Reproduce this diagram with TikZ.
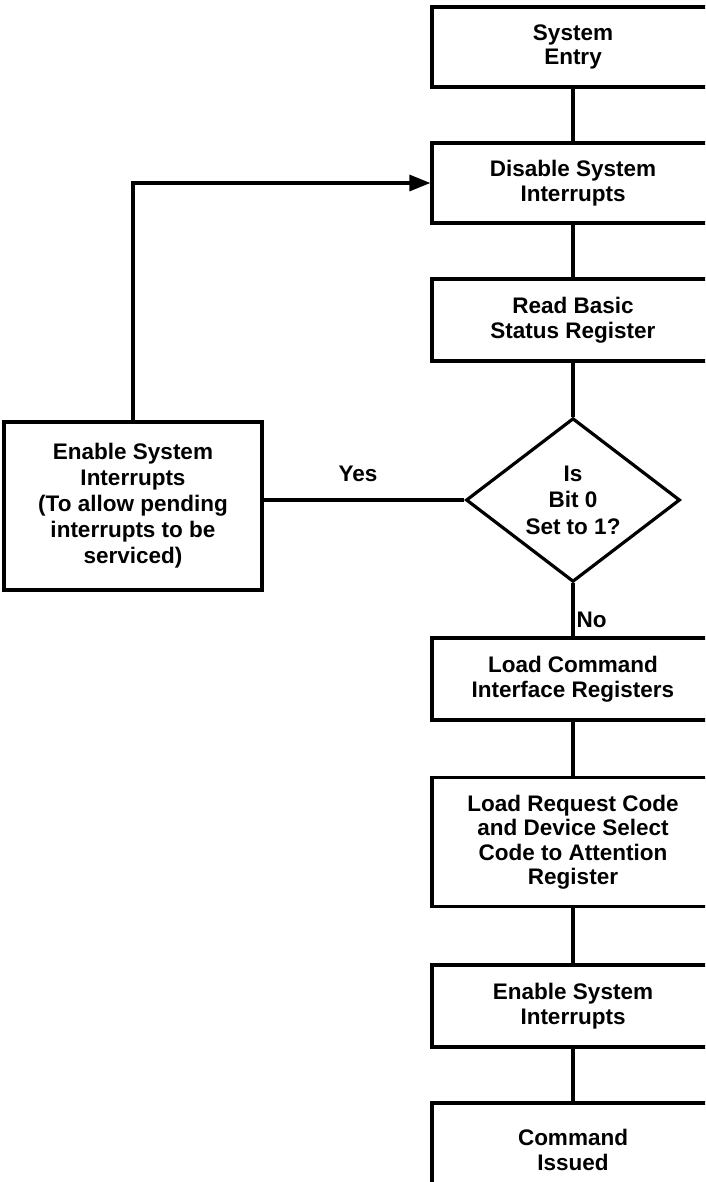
\documentclass[tikz,border=0pt]{standalone}
\usepackage{fontspec}
\setmainfont{Liberation Sans}
\usetikzlibrary{shapes.geometric,arrows.meta}

\tikzset{
  txt/.style={font=\bfseries\fontsize{22.5}{24.5}\selectfont},
  block/.style={draw, txt, line width=3.2pt, minimum width=282pt, minimum height=82pt, align=center, inner sep=0pt},
  decision/.style={draw, diamond, txt, line width=3.2pt, minimum width=214pt, minimum height=163pt, align=center, inner sep=0pt},
  flow/.style={line width=3.2pt},
}

\begin{document}
\begin{tikzpicture}[x=1pt, y=-1pt]
  \useasboundingbox (0,0) rectangle (705,1182);
  \clip (0,0) rectangle (705,1182);
  %\draw[lightgray] (0,0) grid[step=50] (705,1182);

  \draw (573,47) node [block, minimum height=80pt] (entry) {System\\Entry};
  \draw (573,183) node [block, minimum height=80pt] (disable) {Disable System\\Interrupts};
  \draw (573,320) node [block] (readbsr) {Read Basic\\Status Register};
  \draw (573,500) node [decision, font=\bfseries\fontsize{22.5}{26.5}\selectfont] (bitzero) {Is\\Bit 0\\Set to 1?};
  \draw (573,679) node [block] (loadcir) {Load Command\\Interface Registers};
  \draw (573,842) node [block, minimum height=129pt] (loadatt) {Load Request Code\\and Device Select\\Code to Attention\\Register};
  \draw (573,1006) node [block] (enable) {Enable System\\Interrupts};
  \draw (573,1150) node [block, minimum height=94pt] (issued) {Command\\Issued};

  \draw (133,506) node [block, minimum width=258pt, minimum height=168pt,
        font=\bfseries\fontsize{22.5}{26}\selectfont] (pending)
        {Enable System\\Interrupts\\(To allow pending\\interrupts to be\\serviced)};

  \draw[flow] (entry) -- (disable);
  \draw[flow] (disable) -- (readbsr);
  \draw[flow] (readbsr) -- (bitzero);
  \draw[flow] (bitzero) -- (loadcir);
  \draw[flow] (loadcir) -- (loadatt);
  \draw[flow] (loadatt) -- (enable);
  \draw[flow] (enable) -- (issued);

  \draw[flow] (bitzero.west) -- (bitzero.west -| pending.east);
  \draw[flow, -{Triangle[length=21pt, width=16pt]}] (pending.north) |- (disable.west);

  \node[txt] at (358,474) {Yes};
  \node[txt, anchor=west] at (573,620) {No};
\end{tikzpicture}
\end{document}
